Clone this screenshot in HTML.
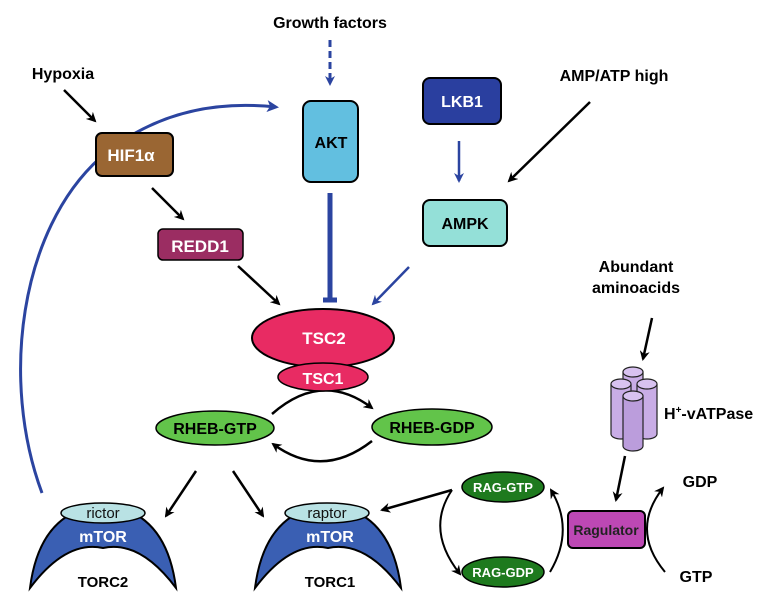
<!DOCTYPE html>
<html><head><meta charset="utf-8"><style>
html,body{margin:0;padding:0;background:#fff;}
svg{display:block;font-family:"Liberation Sans",Arial,sans-serif;font-weight:bold;}
</style></head><body>
<svg width="775" height="601" viewBox="0 0 775 601" xmlns="http://www.w3.org/2000/svg">
<defs>
<marker id="ak" markerWidth="10" markerHeight="10" refX="8" refY="5" orient="auto" markerUnits="userSpaceOnUse"><path d="M0,0 L10,5 L0,10 L3,5 z" fill="#000"/></marker>
<marker id="ab" markerWidth="10" markerHeight="10" refX="8" refY="5" orient="auto" markerUnits="userSpaceOnUse"><path d="M0,0 L10,5 L0,10 L3,5 z" fill="#2b44a0"/></marker>
<marker id="ab2" markerWidth="12" markerHeight="12" refX="9" refY="6" orient="auto" markerUnits="userSpaceOnUse"><path d="M0,0 L12,6 L0,12 L3,6 z" fill="#2b44a0"/></marker>
</defs>

<!-- blue arc -->
<path d="M42,493 C 0,380 20,230 100,158 C 150,115 210,100 276,107" fill="none" stroke="#2b44a0" stroke-width="3" marker-end="url(#ab2)"/>

<!-- texts -->
<text x="330" y="28" font-size="16" text-anchor="middle">Growth factors</text>
<text x="63" y="79" font-size="16" text-anchor="middle">Hypoxia</text>
<text x="614" y="81" font-size="16" text-anchor="middle">AMP/ATP high</text>
<text x="636" y="272" font-size="16" text-anchor="middle">Abundant</text>
<text x="636" y="293" font-size="16" text-anchor="middle">aminoacids</text>
<text x="664" y="419" font-size="16">H<tspan font-size="10" dy="-6">+</tspan><tspan dy="6">-vATPase</tspan></text>
<text x="700" y="487" font-size="16" text-anchor="middle">GDP</text>
<text x="696" y="582" font-size="16" text-anchor="middle">GTP</text>

<!-- arrows -->
<line x1="330" y1="40" x2="330" y2="84" stroke="#2b44a0" stroke-width="3" stroke-dasharray="7,4" marker-end="url(#ab)"/>
<line x1="64" y1="90" x2="95" y2="121" stroke="#000" stroke-width="2.5" marker-end="url(#ak)"/>
<line x1="152" y1="188" x2="183" y2="219" stroke="#000" stroke-width="2.5" marker-end="url(#ak)"/>
<line x1="238" y1="266" x2="279" y2="304" stroke="#000" stroke-width="2.5" marker-end="url(#ak)"/>
<line x1="330" y1="193" x2="330" y2="300" stroke="#2b44a0" stroke-width="5"/>
<line x1="323" y1="300" x2="337" y2="300" stroke="#2b44a0" stroke-width="5"/>
<line x1="459" y1="141" x2="459" y2="181" stroke="#2b44a0" stroke-width="2.5" marker-end="url(#ab)"/>
<line x1="590" y1="102" x2="509" y2="181" stroke="#000" stroke-width="2.5" marker-end="url(#ak)"/>
<line x1="409" y1="267" x2="373" y2="304" stroke="#2b44a0" stroke-width="2.5" marker-end="url(#ab)"/>
<line x1="196" y1="471" x2="166" y2="516" stroke="#000" stroke-width="2.5" marker-end="url(#ak)"/>
<line x1="233" y1="471" x2="263" y2="516" stroke="#000" stroke-width="2.5" marker-end="url(#ak)"/>
<line x1="452" y1="490" x2="382" y2="510" stroke="#000" stroke-width="2.5" marker-end="url(#ak)"/>
<line x1="652" y1="318" x2="643" y2="359" stroke="#000" stroke-width="2.5" marker-end="url(#ak)"/>
<line x1="625" y1="456" x2="616" y2="500" stroke="#000" stroke-width="2.5" marker-end="url(#ak)"/>

<!-- RHEB cycle arcs -->
<path d="M272,414 Q322,370 372,408" fill="none" stroke="#000" stroke-width="2.5" marker-end="url(#ak)"/>
<path d="M372,441 Q322,480 273,444" fill="none" stroke="#000" stroke-width="2.5" marker-end="url(#ak)"/>
<!-- RAG cycle -->
<path d="M452,490 Q425,530 460,574" fill="none" stroke="#000" stroke-width="2" marker-end="url(#ak)"/>
<path d="M550,572 Q575,530 551,490" fill="none" stroke="#000" stroke-width="2" marker-end="url(#ak)"/>
<!-- GDP/GTP arc -->
<path d="M665,572 Q630,530 663,488" fill="none" stroke="#000" stroke-width="2" marker-end="url(#ak)"/>

<!-- boxes -->
<rect x="303" y="101" width="55" height="81" rx="8" fill="#62bfe0" stroke="#000" stroke-width="2"/>
<text x="331" y="148" font-size="16" text-anchor="middle">AKT</text>
<rect x="96" y="133" width="77" height="43" rx="6" fill="#9a6633" stroke="#000" stroke-width="2"/>
<text x="131" y="161" font-size="17" fill="#fff" text-anchor="middle">HIF1α</text>
<rect x="158" y="229" width="85" height="31" rx="5" fill="#9b2d62" stroke="#000" stroke-width="1.5"/>
<text x="200" y="252" font-size="17" fill="#fff" text-anchor="middle">REDD1</text>
<rect x="423" y="78" width="78" height="46" rx="7" fill="#2a3f9f" stroke="#000" stroke-width="2"/>
<text x="462" y="107" font-size="16" fill="#fff" text-anchor="middle">LKB1</text>
<rect x="423" y="200" width="84" height="46" rx="7" fill="#94e0d8" stroke="#000" stroke-width="2"/>
<text x="465" y="229" font-size="16" text-anchor="middle">AMPK</text>
<rect x="568" y="511" width="77" height="37" rx="5" fill="#bd48b4" stroke="#000" stroke-width="2"/>
<text x="606" y="535" font-size="14" fill="#222" text-anchor="middle">Ragulator</text>

<!-- TSC -->
<ellipse cx="323" cy="338" rx="71" ry="29" fill="#e82b63" stroke="#000" stroke-width="2"/>
<text x="324" y="344" font-size="17" fill="#fff" text-anchor="middle">TSC2</text>
<ellipse cx="323" cy="377" rx="45" ry="14" fill="#e82b63" stroke="#000" stroke-width="1.5"/>
<text x="323" y="384" font-size="16" fill="#fff" text-anchor="middle">TSC1</text>

<!-- RHEB -->
<ellipse cx="215" cy="428" rx="59" ry="17" fill="#62c44a" stroke="#000" stroke-width="1.5"/>
<text x="215" y="434" font-size="16" text-anchor="middle">RHEB-GTP</text>
<ellipse cx="432" cy="427" rx="60" ry="18" fill="#62c44a" stroke="#000" stroke-width="1.5"/>
<text x="432" y="433" font-size="16" text-anchor="middle">RHEB-GDP</text>

<!-- RAG -->
<ellipse cx="503" cy="487" rx="41" ry="15" fill="#1e7a1e" stroke="#000" stroke-width="1.5"/>
<text x="503" y="492" font-size="13" fill="#fff" text-anchor="middle">RAG-GTP</text>
<ellipse cx="503" cy="572" rx="41" ry="15" fill="#1e7a1e" stroke="#000" stroke-width="1.5"/>
<text x="503" y="577" font-size="13" fill="#fff" text-anchor="middle">RAG-GDP</text>

<!-- TORC2 -->
<path d="M30,588 Q40,510 103,505 Q166,510 176,588 Q140,540 103,548 Q66,540 30,588 z" fill="#3a5fb3" stroke="#000" stroke-width="2"/>
<ellipse cx="103" cy="513" rx="42" ry="10" fill="#b9e2e4" stroke="#000" stroke-width="1.5"/>
<text x="103" y="518" font-size="15" font-weight="normal" fill="#111" text-anchor="middle">rictor</text>
<text x="103" y="542" font-size="16" fill="#fff" text-anchor="middle">mTOR</text>
<text x="103" y="587" font-size="15" text-anchor="middle">TORC2</text>
<!-- TORC1 -->
<path d="M255,588 Q265,510 328,505 Q391,510 401,588 Q365,540 328,548 Q291,540 255,588 z" fill="#3a5fb3" stroke="#000" stroke-width="2"/>
<ellipse cx="327" cy="513" rx="42" ry="10" fill="#b9e2e4" stroke="#000" stroke-width="1.5"/>
<text x="327" y="518" font-size="15" font-weight="normal" fill="#111" text-anchor="middle">raptor</text>
<text x="330" y="542" font-size="16" fill="#fff" text-anchor="middle">mTOR</text>
<text x="330" y="587" font-size="15" text-anchor="middle">TORC1</text>

<!-- vATPase -->
<g fill="#c9ade6" stroke="#222" stroke-width="1.2">
<path d="M623,372 v50 a10,5 0 0 0 20,0 v-50"/><ellipse cx="633" cy="372" rx="10" ry="5" fill="#d8c2f0"/>
<path d="M611,384 v50 a10,5 0 0 0 20,0 v-50"/><ellipse cx="621" cy="384" rx="10" ry="5" fill="#d8c2f0"/>
<path d="M637,384 v50 a10,5 0 0 0 20,0 v-50"/><ellipse cx="647" cy="384" rx="10" ry="5" fill="#d8c2f0"/>
<path d="M623,396 v50 a10,5 0 0 0 20,0 v-50" fill="#bb9ddc"/><ellipse cx="633" cy="396" rx="10" ry="5" fill="#d8c2f0"/>
</g>
</svg>
</body></html>
